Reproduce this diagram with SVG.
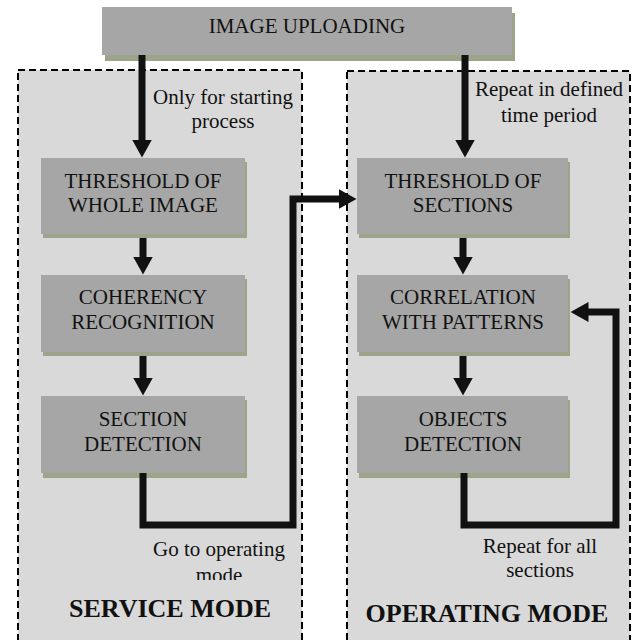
<svg xmlns="http://www.w3.org/2000/svg" width="638" height="640" viewBox="0 0 638 640">
<style>
.panel{fill:#d9d9d9;stroke:#000;stroke-width:2;stroke-dasharray:7 4}
.box{fill:#a6a6a6}
.shadow{fill:#9ca489}
.t{font-size:21px;fill:#111;text-anchor:middle}
.b{font-weight:bold;font-size:26px}
.conn{fill:none;stroke:#111;stroke-width:7;stroke-linejoin:miter}
</style>
<defs>
<marker id="ah" viewBox="0 -10 18 20" refX="0.5" refY="0" markerWidth="18" markerHeight="20" markerUnits="userSpaceOnUse" orient="auto">
<path d="M0,-10 L18,0 L0,10 z" fill="#111"/>
</marker>
<clipPath id="clipmode"><rect x="0" y="0" width="638" height="580"/></clipPath>
</defs>
<rect width="638" height="640" fill="#fff"/>
<g id="service-mode">
<rect class="panel" x="18" y="70" width="284" height="590"/>
</g>
<g id="operating-mode">
<rect class="panel" x="347" y="71" width="283" height="590"/>
</g>
<g font-family="'Liberation Serif', 'Times New Roman', Times, serif">
<g id="image-uploading">
<rect class="shadow" x="105" y="13" width="410" height="48"/>
<rect class="box" x="102" y="7" width="410" height="48"/>
<text class="t" x="307" y="33">IMAGE UPLOADING</text>
</g>
<g id="threshold-whole">
<rect class="shadow" x="43" y="162" width="204" height="76"/>
<rect class="box" x="41" y="158" width="204" height="76"/>
<text class="t" x="143" y="188">THRESHOLD OF</text>
<text class="t" x="143" y="212">WHOLE IMAGE</text>
</g>
<g id="coherency">
<rect class="shadow" x="43" y="279" width="204" height="77"/>
<rect class="box" x="41" y="275" width="204" height="77"/>
<text class="t" x="143" y="304">COHERENCY</text>
<text class="t" x="143" y="329">RECOGNITION</text>
</g>
<g id="section-detection">
<rect class="shadow" x="43" y="400" width="204" height="78"/>
<rect class="box" x="41" y="396" width="204" height="77"/>
<text class="t" x="143" y="426">SECTION</text>
<text class="t" x="143" y="451">DETECTION</text>
</g>
<g id="threshold-sections">
<rect class="shadow" x="359" y="162" width="211" height="76"/>
<rect class="box" x="357" y="158" width="211" height="76"/>
<text class="t" x="463" y="188">THRESHOLD OF</text>
<text class="t" x="463" y="212">SECTIONS</text>
</g>
<g id="correlation">
<rect class="shadow" x="359" y="279" width="211" height="77"/>
<rect class="box" x="357" y="275" width="211" height="77"/>
<text class="t" x="463" y="304">CORRELATION</text>
<text class="t" x="463" y="329">WITH PATTERNS</text>
</g>
<g id="objects-detection">
<rect class="shadow" x="359" y="400" width="211" height="78"/>
<rect class="box" x="357" y="396" width="211" height="77"/>
<text class="t" x="463" y="426">OBJECTS</text>
<text class="t" x="463" y="451">DETECTION</text>
</g>
<g id="connectors">
<path class="conn" d="M142,55 V140" marker-end="url(#ah)"/>
<path class="conn" d="M465,55 V140" marker-end="url(#ah)"/>
<path class="conn" d="M143,238 V257" marker-end="url(#ah)"/>
<path class="conn" d="M143,356 V378" marker-end="url(#ah)"/>
<path class="conn" d="M143,473 V525 H293 V199 H339" marker-end="url(#ah)"/>
<path class="conn" d="M463,238 V257" marker-end="url(#ah)"/>
<path class="conn" d="M463,356 V378" marker-end="url(#ah)"/>
<path class="conn" d="M464,473 V525 H616 V312 H588" marker-end="url(#ah)"/>
</g>
<g id="labels">
<text class="t" x="223" y="104">Only for starting</text>
<text class="t" x="223" y="128">process</text>
<text class="t" x="549" y="96">Repeat in defined</text>
<text class="t" x="549" y="122">time period</text>
<text class="t" x="219" y="556">Go to operating</text>
<text class="t" x="219" y="582" clip-path="url(#clipmode)">mode</text>
<text class="t" x="540" y="553">Repeat for all</text>
<text class="t" x="540" y="577">sections</text>
<text class="t b" x="170" y="617">SERVICE MODE</text>
<text class="t b" x="487" y="622">OPERATING MODE</text>
</g>
</g>
</svg>
